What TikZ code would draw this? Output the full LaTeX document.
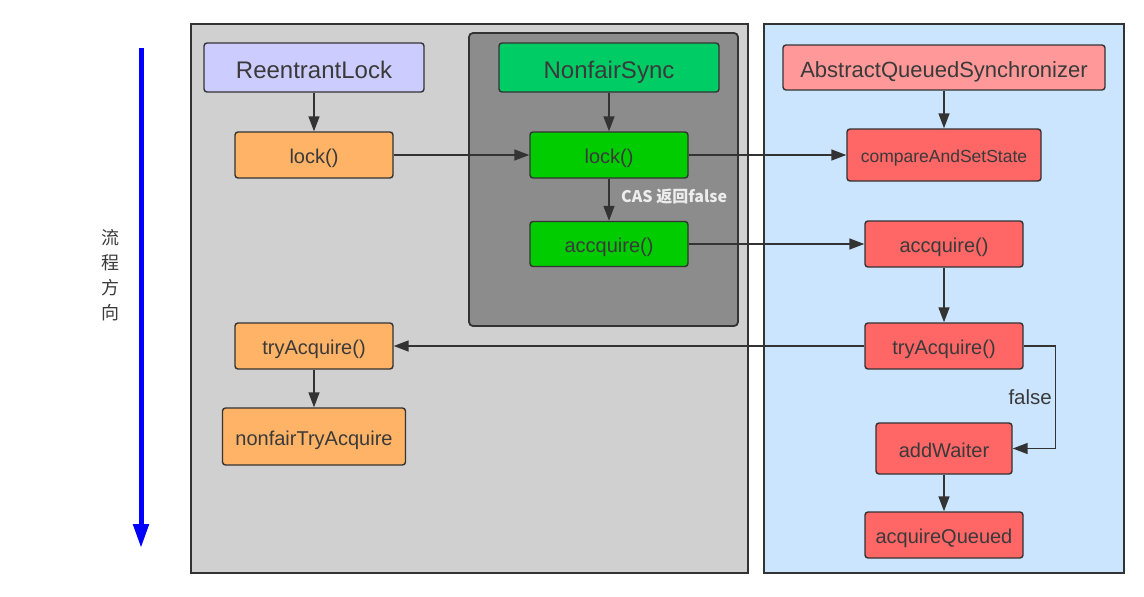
\documentclass[tikz,border=0pt]{standalone}
\usepackage{fontspec}
\setmainfont{Liberation Sans}
\newfontfamily\cjk{Noto Sans CJK SC}
\usetikzlibrary{arrows.meta}
\definecolor{edgec}{HTML}{333333}
\definecolor{textc}{HTML}{3A3A3A}
\definecolor{lgray}{HTML}{D0D0D0}
\definecolor{dgray}{HTML}{8C8C8C}
\definecolor{lblue}{HTML}{CCE5FF}
\definecolor{lpurple}{HTML}{CCCCFF}
\definecolor{orangec}{HTML}{FFB366}
\definecolor{greenh}{HTML}{00CC66}
\definecolor{greenb}{HTML}{00CC00}
\definecolor{pinkh}{HTML}{FF9999}
\definecolor{redb}{HTML}{FF6666}
\definecolor{flowblue}{HTML}{0000FF}
\tikzset{
  panel/.style={draw=edgec, line width=1.8pt},
  box/.style={draw=edgec, line width=1.4pt, rounded corners=3pt, text=textc,
    inner sep=0pt, text height=17pt, text depth=0pt, font=\fontsize{20}{24}\selectfont},
  headbox/.style={box, text height=22pt, font=\fontsize{24}{28}\selectfont},
  conn/.style={draw=edgec, line width=1.5pt, -{Triangle[length=15pt,width=11pt]}},
}
\begin{document}
\begin{tikzpicture}[x=1pt,y=-1pt]
\useasboundingbox (0,0) rectangle (1144,597);
% panels
\draw[panel, fill=lgray] (191,24) rectangle (748,573);
\draw[panel, fill=lblue] (764,24) rectangle (1124,573);
\draw[panel, fill=dgray, rounded corners=4pt] (469,33) rectangle (738,326);
% flow arrow
\coordinate (flowtop) at (141,48);
\coordinate (flowend) at (141,548);
\draw[flowblue, line width=5pt, -{Triangle[length=24pt,width=15pt]}] (flowtop) -- (flowend);
\node[text=textc, align=center, font=\cjk\fontsize{18}{25}\selectfont] (flowlabel) at (110,275) {流\\程\\方\\向};
% left column
\node[headbox, fill=lpurple, minimum width=220pt, minimum height=49pt] (rl) at (314,67.5) {ReentrantLock};
\node[box, fill=orangec, minimum width=158pt, minimum height=46pt] (lockO) at (314,155) {lock()};
\node[box, fill=orangec, minimum width=158pt, minimum height=46pt] (tryO) at (314,346) {tryAcquire()};
\node[box, fill=orangec, minimum width=183pt, minimum height=57pt] (nfta) at (314,436.5) {nonfairTryAcquire};
% nonfair sync
\node[headbox, fill=greenh, minimum width=220pt, minimum height=49pt] (ns) at (609,67.5) {NonfairSync};
\node[box, fill=greenb, minimum width=158pt, minimum height=46pt] (lockG) at (609,155) {lock()};
\node[box, fill=greenb, minimum width=158pt, minimum height=45pt] (accG) at (609,244) {accquire()};
% AQS
\node[headbox, fill=pinkh, minimum width=322pt, minimum height=45pt, text height=20pt, font=\fontsize{22}{26}\selectfont] (aqs) at (944,67.5) {AbstractQueuedSynchronizer};
\node[box, fill=redb, minimum width=194pt, minimum height=52pt, text height=15pt, font=\fontsize{17.5}{21}\selectfont] (cas) at (944,155) {compareAndSetState};
\node[box, fill=redb, minimum width=158pt, minimum height=46pt] (accR) at (944,244) {accquire()};
\node[box, fill=redb, minimum width=158pt, minimum height=46pt] (tryR) at (944,346) {tryAcquire()};
\node[box, fill=redb, minimum width=136pt, minimum height=51pt] (aw) at (944,448.5) {addWaiter};
\node[box, fill=redb, minimum width=158pt, minimum height=46pt] (aq) at (944,535) {acquireQueued};
% connectors
\draw[conn] (rl) -- (lockO);
\draw[conn] (lockO) -- (lockG);
\draw[conn] (ns) -- (lockG);
\draw[conn] (lockG) -- (accG);
\node[anchor=west, text=white!93!black, font=\cjk\bfseries\fontsize{16}{19}\selectfont, inner sep=0pt] (caslabel) at (621,197) {CAS 返回false};
\draw[conn] (lockG) -- (cas);
\draw[conn] (accG) -- (accR);
\draw[conn] (aqs) -- (cas);
\draw[conn] (accR) -- (tryR);
\draw[conn] (tryR) -- (tryO);
\draw[conn] (tryR.east) -- ++(32,0) coordinate (bend) |- (aw.east);
\node[anchor=east, text=textc, font=\fontsize{20.5}{24}\selectfont, inner sep=0pt] (falselabel) at (1052,397) {false};
\draw[conn] (tryO) -- (nfta);
\draw[conn] (aw) -- (aq);
\end{tikzpicture}
\end{document}
